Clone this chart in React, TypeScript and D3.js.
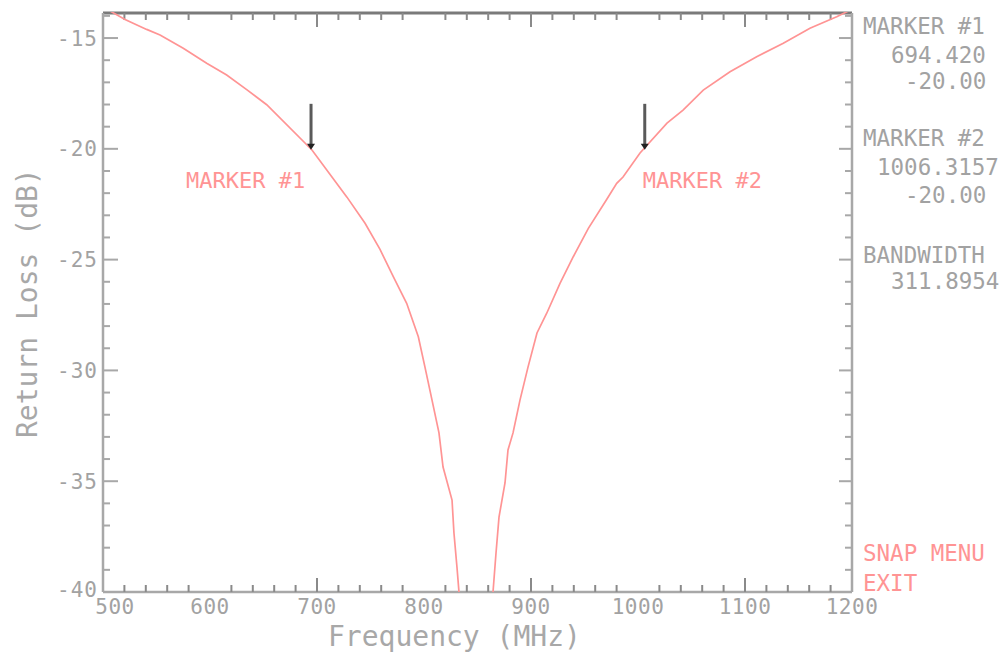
import React from "react";
import * as d3 from "d3";

// ---- data ----
const freqMHz = [
  500, 520.6, 540.8, 553.3, 575.0, 596.9, 615.6, 634.3, 653.0, 695.3, 728.0,
  744.9, 758.9, 771.3, 783.8, 794.7, 800.9, 807.5, 814.0, 817.8, 826.2, 828.0,
  830.8, 832.7, 848, 864.5, 867.3, 870.1, 875.7, 878.5, 883.2, 889.7, 897.2,
  905.6, 914.7, 927.1, 939.5, 953.6, 970.7, 980.1, 986.0, 1001.9, 1027.1,
  1042.1, 1061.0, 1086.0, 1110.9, 1135.8, 1160.7, 1185.7, 1200,
];
const returnLossDb = [
  -13.6, -14.16, -14.61, -14.86, -15.46, -16.14, -16.67, -17.33, -18.01, -20.05,
  -22.18, -23.36, -24.54, -25.77, -26.97, -28.48, -29.85, -31.34, -32.82,
  -34.36, -35.85, -37.34, -38.87, -40, -49.5, -40, -38.24, -36.62, -35.08,
  -33.59, -32.82, -31.34, -29.85, -28.31, -27.42, -26.07, -24.87, -23.59,
  -22.29, -21.56, -21.27, -20.19, -18.84, -18.25, -17.35, -16.52, -15.84,
  -15.24, -14.56, -14.04, -13.7,
];
const markerFreqs = [694.42, 1006.315];
const markerLevels = [-20, -20];
const markerLabels = ["MARKER #1", "MARKER #2"];

const xTickValues = [500, 600, 700, 800, 900, 1000, 1100, 1200];
const xMajorTicks = [700, 900, 1100];
const xMinorTicks = d3.range(520, 1200, 20).filter((f) => f % 100 !== 0);
const yTickValues = [-15, -20, -25, -30, -35, -40];
const yMinorTicks = d3.range(-39, -13, 1).filter((v) => v % 5 !== 0);

const panelLines = [
  { text: "MARKER #1", col: 0, row: 0 },
  { text: "694.420", col: 2, row: 1 },
  { text: "-20.00", col: 3, row: 2 },
  { text: "MARKER #2", col: 0, row: 4 },
  { text: "1006.3157", col: 1, row: 5 },
  { text: "-20.00", col: 3, row: 6 },
  { text: "BANDWIDTH", col: 0, row: 8 },
  { text: "311.8954", col: 2, row: 9 },
];
const panelRowY = [34, 63, 89, 0, 146, 175, 203, 0, 263, 289];
const menuLines = ["SNAP MENU", "EXIT"];

const xLabel = "Frequency (MHz)";
const yLabel = "Return Loss (dB)";

// ---- layout ----
const W = 1002;
const H = 656;
const left = 103;
const right = 852;
const top = 13;
const bottom = 592;

const FONT = "'DejaVu Sans Mono', 'Liberation Mono', monospace";
const GRAY = "#a2a2a2";
const AXIS = "#a8a8a8";
const TICK = "#8a8a8a";
const RED = "#ff9494";

export default function App() {
  const x = d3.scaleLinear().domain([500, 1200]).range([left, right]);
  const y = d3.scaleLinear().domain([-40, -13.87]).range([bottom, top]);
  const pts: [number, number][] = freqMHz.map((f, i) => [f, returnLossDb[i]]);
  const line = d3
    .line<[number, number]>()
    .x((d) => x(d[0]))
    .y((d) => y(d[1]));

  return (
    <svg
      width={W}
      height={H}
      style={{ position: "absolute", left: 0, top: 0, background: "#fff" }}
      fontFamily={FONT}
    >
      <defs>
        <clipPath id="plot">
          <rect x={left} y={top - 1} width={right - left} height={bottom - top + 1} />
        </clipPath>
      </defs>

      {/* frame */}
      <line x1={left} x2={right} y1={top} y2={top} stroke="#7a7a7a" strokeWidth={3} />
      <line x1={left} x2={right} y1={bottom} y2={bottom} stroke={AXIS} strokeWidth={2.5} />
      <line x1={left} x2={left} y1={top} y2={bottom} stroke={AXIS} strokeWidth={2.5} />
      <line x1={right} x2={right} y1={top} y2={bottom} stroke={AXIS} strokeWidth={2.5} />

      {/* x ticks (bottom & top) */}
      {xMinorTicks.map((f) => (
        <g key={"xm" + f}>
          <line x1={x(f)} x2={x(f)} y1={bottom} y2={bottom - 7} stroke={TICK} strokeWidth={2} />
          <line x1={x(f)} x2={x(f)} y1={top} y2={top + 7} stroke={TICK} strokeWidth={2} />
        </g>
      ))}
      {xMajorTicks.map((f) => (
        <g key={"xM" + f}>
          <line x1={x(f)} x2={x(f)} y1={bottom} y2={bottom - 14} stroke={TICK} strokeWidth={2} />
          <line x1={x(f)} x2={x(f)} y1={top} y2={top + 14} stroke={TICK} strokeWidth={2} />
        </g>
      ))}

      {/* y ticks (left & right) */}
      {yMinorTicks.map((v) => (
        <g key={"ym" + v}>
          <line x1={left} x2={left + 7} y1={y(v)} y2={y(v)} stroke={AXIS} strokeWidth={2} />
          <line x1={right} x2={right - 7} y1={y(v)} y2={y(v)} stroke={AXIS} strokeWidth={2} />
        </g>
      ))}
      {yTickValues.map((v) => (
        <g key={"yM" + v}>
          <line x1={left} x2={left + 15} y1={y(v)} y2={y(v)} stroke={AXIS} strokeWidth={2} />
          <line x1={right} x2={right - 13} y1={y(v)} y2={y(v)} stroke={AXIS} strokeWidth={2} />
        </g>
      ))}

      {/* tick labels */}
      {yTickValues.map((v) => (
        <text
          key={"yl" + v}
          x={98}
          y={v === -40 ? y(v) + 5 : y(v) + 7.5}
          textAnchor="end"
          fontSize={21}
          fill={GRAY}
          letterSpacing={1}
        >
          {String(v)}
        </text>
      ))}
      {xTickValues.map((f) => (
        <text
          key={"xl" + f}
          x={f === 500 ? x(f) + 12 : x(f)}
          y={614}
          textAnchor="middle"
          fontSize={21}
          fill={GRAY}
          letterSpacing={0.5}
        >
          {String(f)}
        </text>
      ))}

      {/* axis titles */}
      <text x={328} y={646} fontSize={28} fill={AXIS}>
        {xLabel}
      </text>
      <text
        transform={`translate(37, ${438}) rotate(-90)`}
        fontSize={28}
        fill={AXIS}
      >
        {yLabel}
      </text>

      {/* curve */}
      <g clipPath="url(#plot)">
        <path d={line(pts) || ""} fill="none" stroke={RED} strokeWidth={1.7} />
      </g>

      {/* markers */}
      {markerFreqs.map((f, i) => {
        const mx = x(f);
        const my = y(markerLevels[i]);
        return (
          <g key={"mk" + i}>
            <line x1={mx} x2={mx} y1={my - 45} y2={my - 4} stroke="#5a5a5a" strokeWidth={3} />
            <path
              d={`M${mx - 4},${my - 5} L${mx + 4},${my - 5} L${mx},${my + 1} Z`}
              fill="#222"
            />
          </g>
        );
      })}
      {markerFreqs.map((f, i) => (
        <text
          key={"ml" + i}
          x={i === 0 ? x(f) - 125 : x(f) - 2}
          y={188}
          fontSize={22}
          fill={RED}
        >
          {markerLabels[i]}
        </text>
      ))}

      {/* right panel */}
      {panelLines.map((l, i) => (
        <text
          key={"pl" + i}
          x={863 + l.col * 14}
          y={panelRowY[l.row]}
          fontSize={22.5}
          fill={GRAY}
          style={{ whiteSpace: "pre" }}
        >
          {l.text}
        </text>
      ))}
      {menuLines.map((t, i) => (
        <text key={"mn" + i} x={863} y={561 + i * 30} fontSize={22.5} fill={RED}>
          {t}
        </text>
      ))}
    </svg>
  );
}
